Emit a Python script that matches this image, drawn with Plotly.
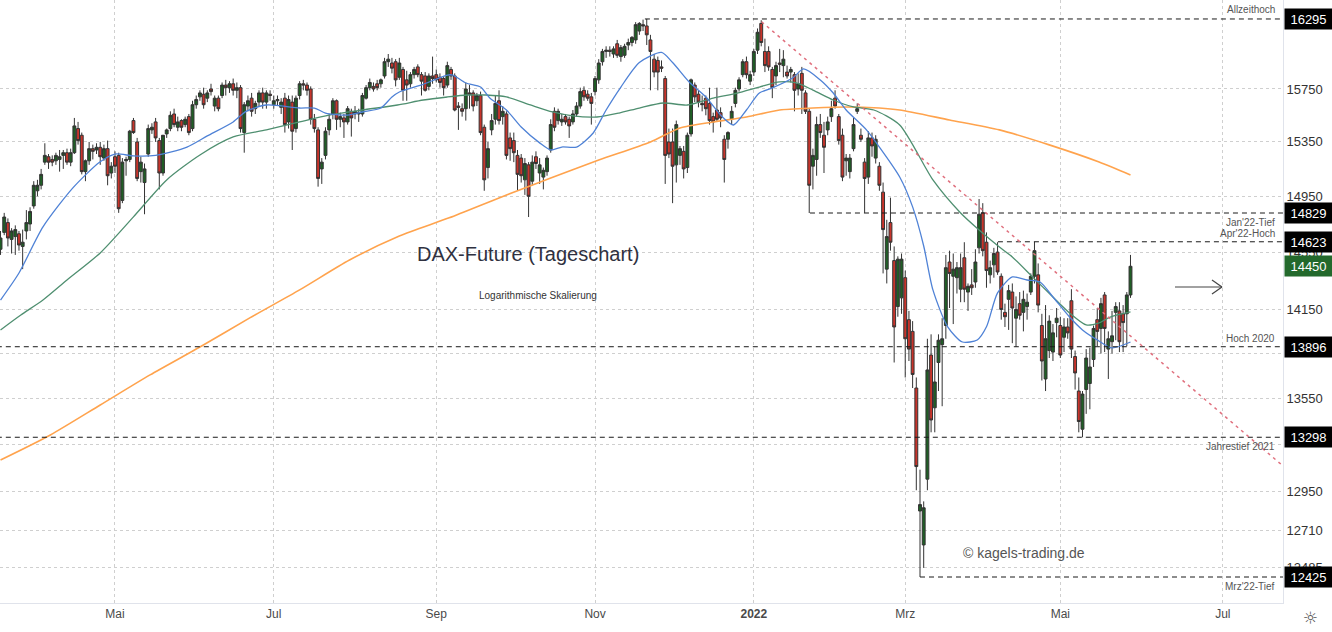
import math
import pandas as pd
import plotly.graph_objects as go

# ---------------- trading calendar (FDAX, Eurex) ----------------
first_day = "2021-03-17"
calendar_end = "2022-07-15"
holidays = ["2021-04-02", "2021-04-05", "2021-12-24", "2021-12-31", "2022-04-15", "2022-04-18"]

# ---------------- daily candles ----------------
opens = [14570,14690,14760,14640,14660,14680,14590,14700,14750,14880,14990,
 15030,15200,15240,15220,15210,15220,15250,15270,15200,15270,15450,15400,15130,15210,15300,15290,15310,15230,15300,15120,
 15240,15250,14920,15210,15220,15510,15350,15130,15050,15260,15440,15500,15360,15120,15410,15450,15560,15460,15510,15480,15540,
 15450,15630,15690,15710,15680,15750,15620,15680,15700,15780,15760,15790,15740,15760,15420,15620,15680,15600,15650,15720,15650,15710,
 15630,15660,15610,15680,15500,15650,15450,15700,15790,15780,15750,15520,15440,15150,15250,15440,15560,15660,15520,15530,15500,15580,
 15560,15560,15560,15680,15760,15770,15790,15790,15850,15960,15950,15960,15840,15900,15820,15790,15860,15920,15860,15850,15770,15850,
 15860,15840,15830,15780,15900,15850,15620,15600,15600,15720,15720,15660,15700,15460,15160,15440,15520,15660,15540,15560,15380,15360,
 15250,15230,15070,15180,15060,15240,15120,15090,15130,15290,15580,15510,15500,15540,15520,15500,15560,15620,15740,15710,15690,
 15730,15820,15960,16040,16050,16020,16100,16000,16010,16090,16110,16130,16200,16250,16240,16130,15980,15970,15920,15830,15350,15350,
 15180,15250,15280,15160,15410,15780,15710,15640,15680,15640,15540,15590,15570,15370,15370,15520,15640,15750,15860,15960,15810,
 15880,16050,16260,16040,16040,15900,15850,15950,15930,15880,15880,15860,15750,15870,15720,15580,15170,15220,15480,15400,15440,
 15540,15680,15540,15400,15210,15130,15300,15580,15400,15200,15090,15380,15230,15170,14980,14430,14760,14490,14170,14230,
 14370,14080,14000,13620,12830,12620,13030,13840,13490,13790,13910,14040,14480,14380,14370,14290,14510,14270,14320,14340,14580,14830,14620,
 14390,14460,14550,14380,14130,14220,14270,14090,14190,14130,14170,14270,14380,14390,14040,13680,13870,13860,14060,
 14040,13960,14030,14210,13830,13600,13350,13610,13650,13810,14080,14020,14250,13880,13930,14130,14140,14120,14120,14250]
highs = [14700,14830,14790,14720,14740,14700,14710,14850,14870,15060,15070,
 15150,15340,15260,15250,15270,15290,15290,15300,15300,15530,15500,15420,15220,15350,15330,15340,15350,15330,15360,15200,
 15280,15270,15230,15240,15440,15530,15380,15240,15190,15480,15490,15530,15380,15390,15450,15580,15600,15540,15520,15540,15560,
 15660,15700,15740,15760,15740,15790,15700,15700,15800,15820,15810,15830,15800,15780,15650,15700,15720,15660,15740,15760,15740,15740,
 15700,15700,15680,15720,15700,15700,15700,15810,15820,15800,15770,15560,15460,15230,15460,15560,15680,15670,15570,15560,15620,15600,
 15620,15600,15720,15780,15830,15800,15820,15830,15990,16020,15990,15980,15990,15920,15890,15880,15920,15940,15880,15880,15870,16000,
 15900,15870,15850,15960,15920,15870,15650,15640,15800,15780,15740,15720,15730,15480,15350,15560,15700,15740,15620,15580,15420,15420,
 15290,15260,15230,15200,15250,15280,15230,15160,15250,15520,15610,15600,15560,15560,15540,15590,15650,15760,15770,15740,15720,
 15850,15980,16060,16080,16080,16080,16130,16090,16100,16140,16160,16270,16270,16290,16295,16170,16020,16000,15970,15850,15450,15450,
 15510,15320,15320,15420,15830,15800,15740,15700,15700,15760,15570,15760,15610,15400,15430,15620,15760,15840,15980,16000,15890,
 16060,16220,16285,16140,16080,15920,15960,16060,16050,15930,15920,15880,15870,15920,15740,15600,15300,15540,15560,15500,15540,
 15660,15740,15560,15450,15260,15260,15530,15640,15450,15230,15430,15420,15400,15200,15050,14780,14940,14590,14520,14540,
 14420,14140,14070,13690,13090,12890,13950,13980,13900,13980,14090,14530,14560,14540,14480,14540,14620,14330,14430,14570,14930,14900,14690,
 14490,14580,14620,14400,14190,14320,14330,14240,14270,14280,14260,14400,14623,14470,14120,14180,14110,14050,14160,
 14100,14090,14090,14290,13870,13690,13600,13880,13890,14040,14160,14230,14270,14000,14140,14200,14200,14180,14270,14530]
lows = [14530,14670,14590,14540,14530,14560,14430,14640,14700,14860,14950,
 15000,15180,15150,15170,15180,15130,15150,15180,15170,15260,15330,15110,15060,15180,15220,15260,15180,15210,15030,15080,
 15120,14830,14900,15100,15200,15410,15060,15050,14820,15240,15410,15350,15000,15100,15380,15430,15460,15430,15430,15460,15400,
 15430,15600,15660,15600,15650,15700,15580,15580,15680,15700,15720,15700,15680,15420,15270,15580,15540,15560,15620,15600,15600,15660,
 15600,15620,15560,15420,15450,15290,15420,15670,15740,15700,15480,15420,15020,15040,15220,15400,15520,15440,15460,15380,15480,15390,
 15520,15500,15540,15670,15740,15730,15740,15760,15830,15920,15870,15770,15820,15660,15660,15760,15830,15840,15700,15730,15740,15790,
 15800,15760,15700,15760,15820,15580,15440,15540,15510,15600,15580,15620,15400,14990,15080,15400,15480,15480,15480,15220,15210,15200,
 14990,15050,14960,14800,15030,15150,15040,15000,15100,15270,15430,15480,15470,15480,15380,15480,15540,15600,15660,15660,15480,
 15700,15790,15930,15990,16000,15990,15990,15960,15990,16050,16080,16100,16170,16200,16090,15740,15840,15740,15880,15040,15230,14900,
 15050,15180,15080,15120,15390,15650,15610,15580,15550,15480,15420,15500,15460,15050,15300,15480,15610,15730,15840,15830,15780,
 15850,16020,16080,15880,15890,15680,15780,15880,15840,15830,15800,15580,15700,15560,15560,14829,15000,15100,15380,15120,15400,
 15500,15600,15330,15060,15100,15080,15280,15560,15350,14830,15040,15240,15190,14990,14400,14330,14560,13790,14100,14120,
 13690,13800,13620,12960,12425,12480,12960,13330,13330,13600,13500,13950,14160,14050,14260,14200,14200,14140,14250,14300,14540,14520,14300,
 14330,14370,14390,14080,14030,14010,13920,13896,14080,14000,14080,14250,14330,14130,13670,13600,13820,13800,13960,
 13820,13860,13950,13820,13610,13330,13298,13450,13480,13760,13900,13850,13860,13680,13850,13940,13860,13860,13900,14230]
closes = [14650,14800,14650,14700,14710,14600,14620,14760,14840,15030,15030,
 15110,15250,15200,15200,15250,15240,15270,15200,15270,15470,15360,15130,15210,15300,15280,15310,15240,15300,15100,15170,
 15170,14860,15200,15220,15430,15420,15080,15200,15150,15450,15460,15380,15120,15400,15440,15550,15480,15500,15460,15520,15420,
 15630,15670,15720,15630,15720,15730,15680,15600,15780,15760,15790,15740,15760,15450,15630,15660,15580,15640,15720,15650,15720,15700,
 15660,15670,15650,15480,15670,15430,15680,15790,15780,15740,15520,15450,15080,15200,15430,15520,15660,15520,15540,15500,15600,15530,
 15580,15570,15700,15760,15800,15750,15760,15820,15960,15980,15910,15820,15950,15740,15780,15860,15900,15860,15810,15740,15850,15830,
 15820,15800,15760,15930,15850,15590,15610,15580,15750,15710,15620,15700,15420,15070,15300,15510,15640,15510,15580,15250,15300,15270,
 15110,15100,15190,14950,15200,15190,15180,15140,15230,15480,15460,15580,15520,15500,15470,15560,15620,15730,15690,15680,15640,
 15830,15950,16040,16050,16040,16060,16010,16070,16080,16110,16150,16250,16260,16240,16170,16040,15880,15880,15910,15250,15260,15170,
 15480,15300,15150,15400,15820,15690,15650,15630,15600,15510,15500,15520,15530,15220,15420,15580,15740,15820,15960,15860,15860,
 16040,16190,16110,15930,15920,15760,15930,15940,15980,15850,15900,15740,15790,15740,15580,15030,15250,15480,15420,15310,15500,
 15600,15620,15360,15090,15230,15230,15480,15600,15370,15080,15380,15320,15370,15030,14710,14660,14620,14030,14500,14500,
 13950,13880,13710,13110,12870,12850,13740,13410,13660,13940,13950,14440,14400,14430,14440,14440,14290,14310,14300,14480,14820,14560,14420,
 14440,14540,14410,14150,14100,14280,14160,14150,14110,14220,14200,14380,14560,14180,13800,13950,14070,13990,14090,
 13840,14030,13990,13880,13720,13400,13580,13820,13760,14020,14000,14190,14020,13950,13970,14170,13930,14060,14250,14450]

# ---------------- moving averages ----------------
ma20_idx = [0,5,11.5,19.6,26.9,31,36,42,50.5,56,63,66.5,72,81,85,88,94,98,103,106,108,114,121,122.5,126,130,132.5,137,141,146,149,152,156,160.5,164,168,173,179,182,186.5,191,195.5,198.5,202,205.5,209,214.5,217.5,222,225.5,229,234.5,238,243.5,247,250,252.5,256.5,260.5,264.5,267,270,274,278,281.5,285,289.5,293,297,301,306]
ma20_val = [14215,14403,14729,15011,15201,15260,15246,15250,15312,15395,15500,15580,15628,15605,15605,15567,15552,15575,15605,15689,15727,15781,15857,15857,15796,15765,15681,15590,15462,15343,15290,15312,15312,15417,15590,15765,15954,16032,15954,15804,15689,15537,15477,15590,15719,15758,15834,15904,15819,15719,15590,15440,15312,15091,14873,14593,14285,14031,13928,13942,14031,14264,14375,14354,14340,14236,14098,14010,13942,13888,13928]
ma50_idx = [0,5.5,11.5,18,27,36,45,54,63,72,81,89,98,107.5,114.5,121,126.5,131.5,137,143.5,149.5,155,161.5,167.5,173,179.5,186,193,199.5,205.5,211,215.5,220,225.5,231,236.5,243.5,252.5,260,265,270.5,274,279.5,285,289.5,294,297.5,300.5,306]
ma50_val = [14010,14112,14215,14354,14544,14801,15069,15253,15387,15440,15500,15552,15590,15628,15666,15689,15704,15704,15689,15628,15575,15545,15537,15567,15605,15643,15628,15681,15719,15765,15804,15796,15742,15666,15613,15590,15477,15069,14829,14707,14586,14516,14375,14236,14126,14044,14058,14098,14133]
ma200_idx = [0,13.5,27,40.5,54,67.5,81,94.5,108,121.5,135,149,162,176,184,193,202,211,220,229,238,243.5,257,270.5,284,297.5,306]
ma200_val = [13152,13313,13508,13707,13894,14092,14285,14494,14664,14794,14938,15084,15216,15350,15455,15500,15537,15590,15605,15613,15605,15590,15515,15440,15328,15201,15106]

# ---------------- drawn levels / trendline ----------------
level_values = [16295, 14829, 14623, 13896, 13298, 12425]
level_start = [174.5, 219.2, 270.1, -1, -1, 249]
level_names = ["Allzeithoch", "Jan'22-Tief", "Apr'22-Hoch", "Hoch 2020", "Jahrestief 2021", "Mrz'22-Tief"]
trend_idx = [206.1, 350.0]
trend_val = [16273, 13060]

y_ticks = [15750, 15350, 14950, 14550, 14150, 13850, 13550, 13250, 12950, 12710, 12485]
y_tick_text = ["15750", "15350", "14950", "14550", "14150", "", "13550", "", "12950", "12710", "12485"]
tick_months = [(2021, 5, "Mai"), (2021, 7, "Jul"), (2021, 9, "Sep"), (2021, 11, "Nov"),
               (2022, 1, "<b>2022</b>"), (2022, 3, "Mrz"), (2022, 5, "Mai"), (2022, 7, "Jul")]

# ---------------- build ----------------
all_days = pd.bdate_range(first_day, calendar_end)
all_days = all_days[~all_days.isin(pd.to_datetime(holidays))]
x = list(range(len(closes)))
tick_idx = [int(((all_days.year == yy) & (all_days.month == mm)).argmax()) for yy, mm, _ in tick_months]
tick_txt = [t for _, _, t in tick_months]

X_RANGE = [-0.14, 347.3]
Y_RANGE = [math.log10(12269), math.log10(16446)]
PW, PH = 1283, 603
FONT = "Liberation Sans, Arial, sans-serif"

fig = go.Figure()

for idx, val, col, w in [(ma200_idx, ma200_val, "#ffa34d", 1.6),
                         (ma50_idx, ma50_val, "#4f8f70", 1.3),
                         (ma20_idx, ma20_val, "#4f82d6", 1.3)]:
    fig.add_trace(go.Scatter(x=idx, y=val, mode="lines", line=dict(color=col, width=w, shape="spline", smoothing=0.7),
                             hoverinfo="skip", showlegend=False))

fig.add_trace(go.Candlestick(
    x=x, open=opens, high=highs, low=lows, close=closes,
    increasing=dict(fillcolor="#1f5f25", line=dict(color="#333333", width=1)),
    decreasing=dict(fillcolor="#c8342b", line=dict(color="#333333", width=1)),
    whiskerwidth=0, showlegend=False, hoverinfo="skip"))

for lvl, st in zip(level_values, level_start):
    fig.add_trace(go.Scatter(x=[st, X_RANGE[1] + 5], y=[lvl, lvl], mode="lines",
                             line=dict(color="#1a1a1a", width=1, dash="5px,4px"),
                             hoverinfo="skip", showlegend=False))

fig.add_trace(go.Scatter(x=trend_idx, y=trend_val, mode="lines",
                         line=dict(color="#e0707e", width=1.5, dash="3px,4px"),
                         hoverinfo="skip", showlegend=False))

def px(xp, yp):
    return xp / PW, 1 - yp / PH

def note(xp, yp, text, size, color, xanchor="center", family=FONT):
    xx, yy = px(xp, yp)
    fig.add_annotation(x=xx, y=yy, xref="paper", yref="paper", text=text, showarrow=False,
                       xanchor=xanchor, yanchor="middle", font=dict(size=size, color=color, family=family))

# level names
label_y = [9, 222, 233, 338, 446, 586]
for name, ly in zip(level_names, label_y):
    note(1277, ly, name, 10, "#555555", xanchor="right")

# price boxes on the axis
for lvl in level_values:
    fig.add_annotation(x=1, xref="paper", y=math.log10(lvl), yref="y", text=str(lvl), showarrow=False,
                       xanchor="left", yanchor="middle", bgcolor="#000000", width=45, height=18, borderpad=1,
                       xshift=1, font=dict(size=13, color="white", family=FONT))
fig.add_annotation(x=1, xref="paper", y=math.log10(closes[-1]), yref="y", text=str(closes[-1]), showarrow=False,
                   xanchor="left", yanchor="middle", bgcolor="#23692c", width=45, height=18, borderpad=1,
                   xshift=1, font=dict(size=13, color="white", family=FONT))

# texts
note(528, 254, "DAX-Future (Tageschart)", 20, "#2f3140")
note(538, 295, "Logarithmische Skalierung", 10, "#333333")
note(1024, 553, "© kagels-trading.de", 14, "#555555")
note(1310, 618, "☼", 17, "#555555", family="DejaVu Sans")

# arrow
shapes = []
for (x0, y0, x1, y1) in [(1175, 287, 1222, 287), (1222, 287, 1212, 280), (1222, 287, 1212, 294)]:
    a0, b0 = px(x0, y0)
    a1, b1 = px(x1, y1)
    shapes.append(dict(type="line", xref="paper", yref="paper", x0=a0, y0=b0, x1=a1, y1=b1,
                       line=dict(color="#444444", width=1.2)))

fig.update_layout(
    width=1332, height=632, margin=dict(l=0, r=49, t=0, b=29),
    paper_bgcolor="white", plot_bgcolor="white", showlegend=False,
    boxgap=0.22, boxgroupgap=0.0, shapes=shapes,
    font=dict(family=FONT, color="#444444"),
    xaxis=dict(range=X_RANGE, tickvals=tick_idx, ticktext=tick_txt, showgrid=True, gridcolor="#cfcfcf",
               griddash="dot", gridwidth=1, zeroline=False, showline=True, linecolor="#e0e3eb", linewidth=1,
               ticks="", tickfont=dict(size=12, color="#4a4a4a", family=FONT), rangeslider=dict(visible=False),
               fixedrange=True),
    yaxis=dict(type="log", range=Y_RANGE, side="right", tickvals=y_ticks, ticktext=y_tick_text,
               showgrid=True, gridcolor="#cfcfcf", griddash="dot", gridwidth=1, zeroline=False, showline=True,
               linecolor="#e0e3eb", linewidth=1, ticks="", tickfont=dict(size=13, color="#333333", family=FONT),
               fixedrange=True),
)

fig.write_html("out.html")
